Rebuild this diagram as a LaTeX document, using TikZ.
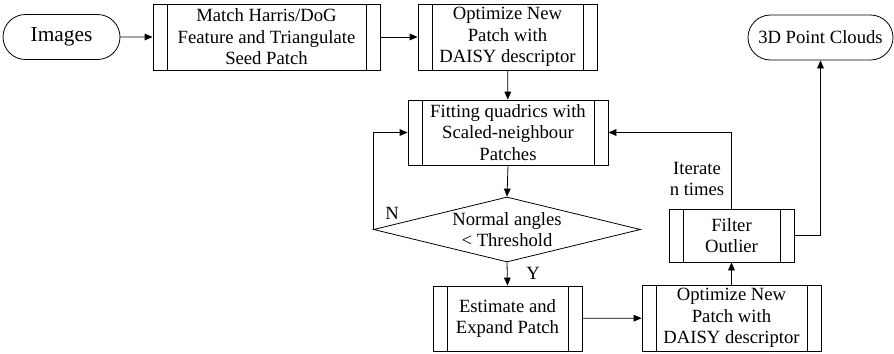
\documentclass[tikz,border=0pt]{standalone}
\usepackage{fontspec}
\setmainfont{Liberation Serif}
\usetikzlibrary{shapes.geometric,shapes.misc,arrows.meta}

\begin{document}
\begin{tikzpicture}[
    x=0.75pt, y=-0.75pt,
    line width=0.6pt,
    font=\fontsize{14pt}{16.1pt}\selectfont,
    % process box with a double bar at each side
    procbox/.style={draw, rectangle, inner sep=0pt, align=center,
      minimum width=#1*0.75pt,
      path picture={
        \draw ([xshift=10.5pt]path picture bounding box.north west) -- ([xshift=10.5pt]path picture bounding box.south west);
        \draw ([xshift=-10.5pt]path picture bounding box.north east) -- ([xshift=-10.5pt]path picture bounding box.south east);
      }},
    terminal/.style={draw, rounded rectangle, inner sep=0pt, minimum height=45*0.75pt, minimum width=#1*0.75pt},
    decision/.style={draw, diamond, inner sep=0pt, minimum width=267*0.75pt, minimum height=65*0.75pt},
    arr/.style={-{Triangle[length=6pt,width=5pt]}},
    tag/.style={inner sep=0pt, align=center}
  ]
  \useasboundingbox (0,0) rectangle (894,354);

  % top row
  \node[terminal=117, font=\fontsize{16pt}{18pt}\selectfont] (img) at (61.5,37) {Images};
  \node[procbox=227, minimum height=66*0.75pt] (match) at (266.5,37)
    {Match Harris/DoG\\Feature and Triangulate\\Seed Patch};
  \node[procbox=179, minimum height=66*0.75pt] (opt1) at (507.5,37)
    {Optimize New\\Patch with\\DAISY descriptor};
  \node[terminal=145] (pc) at (820.5,37.5) {3D Point Clouds};

  % quadric fitting and test
  \node[procbox=200, minimum height=65*0.75pt] (fit) at (508,132.5)
    {Fitting quadrics with\\Scaled-neighbour\\Patches};
  \node[decision] (dia) at (507,229.5) {};
  \node[tag] (diatext) at (507,229.5) {Normal angles\\\textless{} Threshold};

  % bottom row and filtering
  \node[procbox=149, minimum height=65*0.75pt] (est) at (507.5,318.5)
    {Estimate and\\Expand Patch};
  \node[procbox=179, minimum height=66*0.75pt] (opt2) at (731.5,318)
    {Optimize New\\Patch with\\DAISY descriptor};
  \node[procbox=125, minimum height=53*0.75pt] (filt) at (731.5,235.5)
    {Filter\\Outlier};

  % labels
  \node[tag] (nlab) at (392,213) {N};
  \node[tag] (ylab) at (533,273) {Y};
  \node[tag] (iter) at (697,179) {Iterate\\n times};

  % connectors
  \draw[arr] (img) -- (match);
  \draw[arr] (match) -- (opt1);
  \draw[arr] (opt1) -- (fit);
  \draw[arr] (fit.south) -- (dia.north);
  \draw[arr] (dia.west) |- (fit.west);
  \draw[arr] (dia.south) -- (est.north);
  \draw[arr] (est) -- (opt2);
  \draw[arr] (opt2) -- (filt);
  \draw[arr] (filt.north) |- (fit.east);
  \draw[arr] (filt.east) -| (pc.south);
\end{tikzpicture}
\end{document}
